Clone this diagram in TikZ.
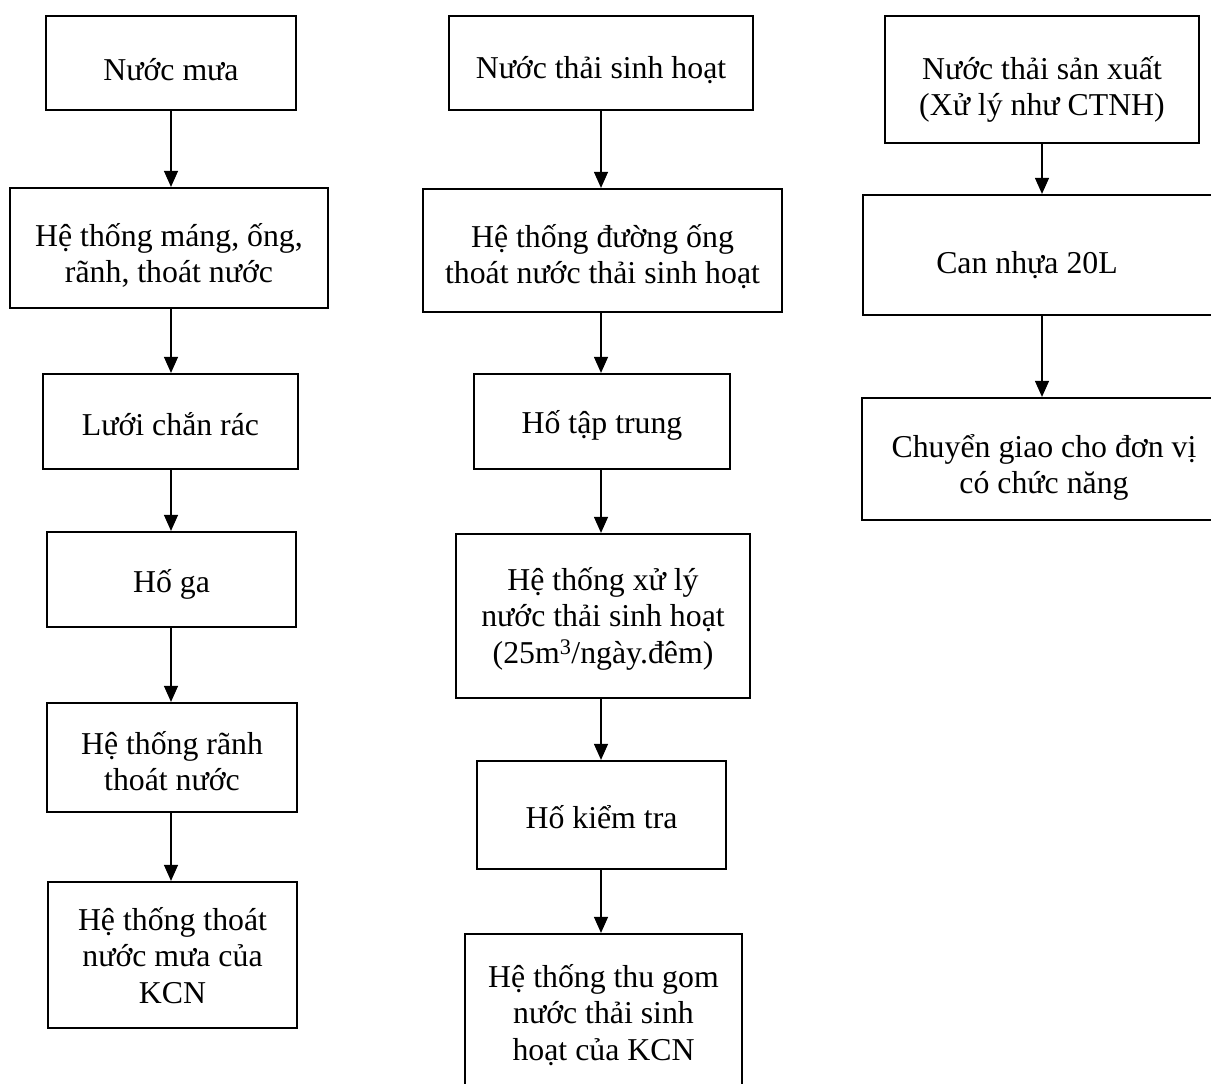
\documentclass[tikz,border=0pt]{standalone}
\usepackage{fontspec}
\setmainfont{Liberation Serif}
\usetikzlibrary{arrows.meta}
% centred lines, first baseline as the box baseline, fixed line pitch
\newcommand\boxlines[1]{\vtop{\lineskiplimit=-100pt\lineskip=0pt\halign{\hfil##\hfil\cr#1\crcr}}}
\begin{document}
\begin{tikzpicture}[x=1pt,y=-1pt,
  stepbox/.style={draw, line width=2.2pt, rectangle, inner sep=0pt,
    font=\fontsize{31.8pt}{36.7pt}\selectfont},
  flow/.style={line width=1.2pt, -{Triangle[length=16pt,width=14pt]}}]
\useasboundingbox (0,0) rectangle (1211,1084);

% rainwater line
\node[stepbox, minimum width=250pt, minimum height=94pt, text height=57pt, text depth=23pt]
  (m1) at (171,63) {\boxlines{Nước mưa}};
\node[stepbox, minimum width=318pt, minimum height=120pt, text height=38pt, text depth=42pt]
  (m2) at (169,248) {\boxlines{Hệ thống máng, ống,\cr rãnh, thoát nước}};
\node[stepbox, minimum width=255pt, minimum height=95pt, text height=53.5pt, text depth=26.5pt]
  (m3) at (170.5,421.5) {\boxlines{Lưới chắn rác}};
\node[stepbox, minimum width=249pt, minimum height=95pt, text height=52.5pt, text depth=27.5pt]
  (m4) at (171.5,579.5) {\boxlines{Hố ga}};
\node[stepbox, minimum width=250pt, minimum height=109pt, text height=36.5pt, text depth=43.5pt]
  (m5) at (172,757.5) {\boxlines{Hệ thống rãnh\cr thoát nước}};
\node[stepbox, minimum width=249pt, minimum height=146pt, text height=15pt, text depth=65pt]
  (m6) at (172.5,955) {\boxlines{Hệ thống thoát\cr nước mưa của\cr KCN}};

% domestic wastewater line
\node[stepbox, minimum width=304pt, minimum height=94pt, text height=55pt, text depth=25pt]
  (s1) at (601,63) {\boxlines{Nước thải sinh hoạt}};
\node[stepbox, minimum width=359pt, minimum height=123pt, text height=36.5pt, text depth=43.5pt]
  (s2) at (602.5,250.5) {\boxlines{Hệ thống đường ống\cr thoát nước thải sinh hoạt}};
\node[stepbox, minimum width=256pt, minimum height=95pt, text height=51.5pt, text depth=28.5pt]
  (s3) at (602,421.5) {\boxlines{Hố tập trung}};
\node[stepbox, minimum width=294pt, minimum height=164pt, text height=14pt, text depth=66pt]
  (s4) at (603,616) {\boxlines{Hệ thống xử lý\cr nước thải sinh hoạt\cr (25m\textsuperscript{3}/ngày.đêm)}};
\node[stepbox, minimum width=249pt, minimum height=108pt, text height=53pt, text depth=27pt]
  (s5) at (601.5,815) {\boxlines{Hố kiểm tra}};
\node[stepbox, minimum width=277pt, minimum height=158pt, text height=14pt, text depth=66pt]
  (s6) at (603.5,1013) {\boxlines{Hệ thống thu gom\cr nước thải sinh\cr hoạt của KCN}};

% production wastewater line
\node[stepbox, minimum width=314pt, minimum height=127pt, text height=39.5pt, text depth=40.5pt]
  (p1) at (1042,79.5) {\boxlines{Nước thải sản xuất\cr (Xử lý như CTNH)}};
\node[stepbox, minimum width=363pt, minimum height=120pt, text height=58pt, text depth=22pt]
  (p2) at (1044.5,255) {\boxlines{Can nhựa 20L\hspace*{35pt}}};
\node[stepbox, minimum width=364pt, minimum height=122pt, text height=38pt, text depth=42pt]
  (p3) at (1044,459) {\boxlines{Chuyển giao cho đơn vị\cr có chức năng}};

% connectors
\draw[flow] (m1.south) -- (m1.south |- m2.north);
\draw[flow] (m2.south -| m1) -- (m3.north -| m1);
\draw[flow] (m3.south -| m1) -- (m4.north -| m1);
\draw[flow] (m4.south -| m1) -- (m5.north -| m1);
\draw[flow] (m5.south -| m1) -- (m6.north -| m1);

\draw[flow] (s1.south) -- (s1.south |- s2.north);
\draw[flow] (s2.south -| s1) -- (s3.north -| s1);
\draw[flow] (s3.south -| s1) -- (s4.north -| s1);
\draw[flow] (s4.south -| s1) -- (s5.north -| s1);
\draw[flow] (s5.south -| s1) -- (s6.north -| s1);

\draw[flow] (p1.south) -- (p1.south |- p2.north);
\draw[flow] (p2.south -| p1) -- (p3.north -| p1);
\end{tikzpicture}
\end{document}
